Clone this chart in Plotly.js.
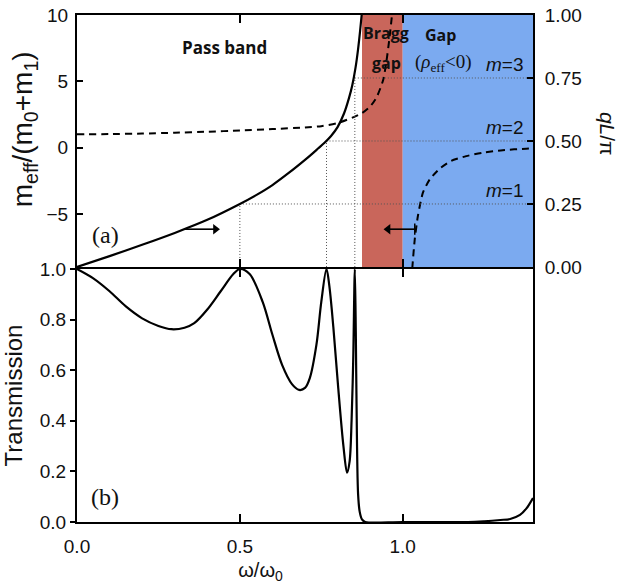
<!DOCTYPE html>
<html><head><meta charset="utf-8">
<script src="https://cdn.plot.ly/plotly-3.0.1.min.js"></script>
<style>html,body{margin:0;padding:0;background:#fff}#chart{width:621px;height:584px}</style>
</head><body><div id="chart"></div>
<script>
// ---- data ----
// (a) wavenumber qL/pi (right axis), solid curve
const qOmega = [0, 0.1, 0.2, 0.3, 0.4, 0.5, 0.55, 0.6, 0.65, 0.7, 0.72, 0.74, 0.76, 0.78, 0.8, 0.82, 0.835, 0.845, 0.855, 0.863, 0.869, 0.874];
const qValues = [0, 0.043, 0.088, 0.135, 0.187, 0.25, 0.285, 0.325, 0.373, 0.425, 0.447, 0.47, 0.493, 0.52, 0.555, 0.61, 0.67, 0.72, 0.79, 0.865, 0.935, 1.0];
// (a) effective mass m_eff/(m0+m1) (left axis), dashed curve, pass band branch
const mOmegaLow = [0, 0.1, 0.2, 0.3, 0.4, 0.5, 0.6, 0.7, 0.75, 0.8, 0.85, 0.875, 0.9, 0.92, 0.94, 0.95, 0.96, 0.968, 0.972];
const mValuesLow = [1.0, 1.02, 1.06, 1.12, 1.2, 1.29, 1.4, 1.52, 1.62, 1.85, 2.3, 2.6, 3.1, 3.8, 5.1, 6.5, 8.4, 10.2, 11.0];
// dashed curve, gap branch
const mOmegaHigh = [1.027, 1.03, 1.037, 1.047, 1.062, 1.083, 1.113, 1.149, 1.195, 1.246, 1.307, 1.379, 1.4];
const mValuesHigh = [-10, -8.9, -6.9, -5.1, -3.4, -2.4, -1.6, -1.0, -0.64, -0.38, -0.19, -0.08, -0.05];
// (b) transmission
const tOmega = [0, 0.05, 0.1, 0.15, 0.2, 0.25, 0.29, 0.33, 0.36, 0.4, 0.44, 0.48, 0.5, 0.53, 0.57, 0.6, 0.63, 0.66, 0.682, 0.7, 0.715, 0.735, 0.75, 0.766, 0.775, 0.787, 0.802, 0.818, 0.829, 0.837, 0.843, 0.848, 0.853, 0.856, 0.858, 0.863, 0.868, 0.875, 0.885, 1.0, 1.2, 1.25, 1.3, 1.33, 1.36, 1.38, 1.4];
const tValues = [1.0, 0.963, 0.912, 0.852, 0.805, 0.775, 0.762, 0.768, 0.786, 0.84, 0.91, 0.98, 1.0, 0.98, 0.87, 0.74, 0.62, 0.545, 0.522, 0.53, 0.57, 0.7, 0.87, 1.0, 0.93, 0.77, 0.53, 0.3, 0.195, 0.24, 0.4, 0.64, 1.0, 0.75, 0.5, 0.11, 0.04, 0.01, 0.0, 0.0, 0.0, 0.003, 0.008, 0.012, 0.028, 0.054, 0.095];
// resonances (T = 1) and the corresponding qL/pi levels (m = 1, 2, 3)
const resOmega = [0.5, 0.766, 0.853];
const resQ = [0.25, 0.5, 0.75];
const modeLabels = ['<i>m</i>=1', '<i>m</i>=2', '<i>m</i>=3'];
// shaded regions
const braggGap = [0.875, 1.0];
const negGap = [1.0, 1.4];
// axis ticks
const xTicks = [0, 0.5, 1.0];
const xTickText = ['0.0', '0.5', '1.0'];
const mTicks = [-5, 0, 5, 10];
const qTicks = [0, 0.25, 0.5, 0.75, 1.0];
const tTicks = [0, 0.2, 0.4, 0.6, 0.8, 1.0];

// ---- build guide lines from resonances ----
const guideX = [], guideY = [];
resOmega.forEach((w, i) => {
  guideX.push(w, w, null, w, 1.4, null);
  guideY.push(0, resQ[i], null, resQ[i], resQ[i], null);
});

const F = 'Liberation Sans, Arial, sans-serif';
const tickFont = {family: F, size: 19, color: '#111'};

const traces = [
  {x: guideX, y: guideY, xaxis: 'x2', yaxis: 'y3', mode: 'lines', hoverinfo: 'skip',
   line: {color: '#555', width: 1, dash: '1px,2px'}, showlegend: false},
  {x: qOmega, y: qValues, xaxis: 'x2', yaxis: 'y3', mode: 'lines',
   line: {color: '#000', width: 2.2, shape: 'spline', smoothing: 0.8}, showlegend: false},
  {x: mOmegaLow, y: mValuesLow, xaxis: 'x2', yaxis: 'y2', mode: 'lines',
   line: {color: '#000', width: 2, dash: '7px,5px', shape: 'spline', smoothing: 0.6}, showlegend: false},
  {x: mOmegaHigh, y: mValuesHigh, xaxis: 'x2', yaxis: 'y2', mode: 'lines',
   line: {color: '#000', width: 2, dash: '7px,5px', shape: 'spline', smoothing: 0.6}, showlegend: false},
  // arrow pointing to the right axis (solid curve)
  {x: [0.331, 0.425], y: [0.15, 0.15], xaxis: 'x2', yaxis: 'y3', mode: 'lines', hoverinfo: 'skip',
   line: {color: '#000', width: 1.6}, showlegend: false},
  {x: [0.425], y: [0.15], xaxis: 'x2', yaxis: 'y3', mode: 'markers', hoverinfo: 'skip',
   marker: {symbol: 'triangle-right', size: 9, color: '#000'}, showlegend: false},
  // arrow pointing to the left axis (dashed curve)
  {x: [1.037, 0.955], y: [0.15, 0.15], xaxis: 'x2', yaxis: 'y3', mode: 'lines', hoverinfo: 'skip',
   line: {color: '#000', width: 1.6}, showlegend: false},
  {x: [0.955], y: [0.15], xaxis: 'x2', yaxis: 'y3', mode: 'markers', hoverinfo: 'skip',
   marker: {symbol: 'triangle-left', size: 9, color: '#000'}, showlegend: false},
  {x: [1.037], y: [0.15], xaxis: 'x2', yaxis: 'y3', mode: 'markers', hoverinfo: 'skip',
   marker: {symbol: 'line-ns', size: 8, line: {width: 1.5, color: '#000'}}, showlegend: false},
  {x: tOmega, y: tValues, xaxis: 'x', yaxis: 'y', mode: 'lines',
   line: {color: '#000', width: 2.2, shape: 'spline', smoothing: 0.9}, showlegend: false}
];

const ann = [];
const txt = (x, y, text, font, extra) => Object.assign({xref: 'x2', yref: 'y3', x, y, text, showarrow: false, font}, extra || {});
const bold = {family: 'Open Sans, sans-serif', size: 16, color: '#111', weight: 'bold'};
ann.push(txt(0.454, 0.87, '<b>Pass band</b>', Object.assign({}, bold, {size: 17})));
ann.push(txt(0.95, 0.929, '<b>Bragg</b>', bold));
ann.push(txt(0.95, 0.81, '<b>gap</b>', bold));
ann.push(txt(1.117, 0.921, '<b>Gap</b>', bold));
ann.push(txt(1.126, 0.81, '(<i>ρ</i><sub>eff</sub>&lt;0)', {family: 'Liberation Serif, serif', size: 19, color: '#111'}));
modeLabels.forEach((t, i) => ann.push(txt(1.378, resQ[i] + 0.055, t, {family: F, size: 19, color: '#111'}, {xanchor: 'right'})));
ann.push(txt(0.086, 0.125, '(a)', {family: 'Liberation Serif, serif', size: 24, color: '#111'}));
ann.push({xref: 'x', yref: 'y', x: 0.086, y: 0.1, text: '(b)', showarrow: false, font: {family: 'Liberation Serif, serif', size: 24, color: '#111'}});
// right axis title (reads top to bottom)
ann.push({xref: 'paper', yref: 'paper', x: 1.165, y: 0.765, xanchor: 'center', yanchor: 'middle', text: '<i>qL</i>/π', textangle: 90, showarrow: false, font: {family: F, size: 21, color: '#111'}});

const axisLine = {showline: true, linecolor: '#000', linewidth: 2, showgrid: false, zeroline: false};

const layout = {
  width: 621, height: 584,
  margin: {l: 77, r: 88, t: 15, b: 62},
  paper_bgcolor: '#fff', plot_bgcolor: 'rgba(0,0,0,0)',
  showlegend: false,
  xaxis: Object.assign({}, axisLine, {anchor: 'y', domain: [0, 1], range: [0, 1.4], tickvals: xTicks, ticktext: xTickText,
    ticks: 'inside', ticklen: 8, tickwidth: 2, tickcolor: '#000', mirror: 'ticks', tickfont: tickFont, ticklabelstandoff: 6,
    title: {text: 'ω/ω<sub>0</sub>&nbsp;&nbsp;&nbsp;&nbsp;&nbsp;&nbsp;&nbsp;&nbsp;&nbsp;&nbsp;&nbsp;&nbsp;&nbsp;&nbsp;&nbsp;&nbsp;', font: {family: F, size: 20, color: '#111'}, standoff: 8}}),
  xaxis2: Object.assign({}, axisLine, {anchor: 'y2', matches: 'x', range: [0, 1.4], tickvals: xTicks, showticklabels: false,
    ticks: 'inside', ticklen: 8, tickwidth: 2, tickcolor: '#000', mirror: 'ticks'}),
  yaxis: Object.assign({}, axisLine, {anchor: 'x', domain: [0, 0.499], range: [0, 1], tickvals: tTicks, tickformat: '.1f',
    ticks: 'outside', ticklen: 5, tickwidth: 2, tickcolor: '#000', mirror: true, tickfont: tickFont,
    title: {text: 'Transmission', font: {family: F, size: 24, color: '#111'}, standoff: 10}}),
  yaxis2: Object.assign({}, axisLine, {anchor: 'x2', domain: [0.503, 1], range: [-9, 10], tickvals: mTicks,
    ticks: 'inside', ticklen: 6, tickwidth: 2, tickcolor: '#000', tickfont: tickFont, ticklabelstandoff: 3,
    title: {text: '&nbsp;&nbsp;&nbsp;m<sub>eff</sub>/(m<sub>0</sub>+m<sub>1</sub>)', font: {family: F, size: 28, color: '#111'}, standoff: 6}}),
  yaxis3: Object.assign({}, axisLine, {overlaying: 'y2', anchor: 'x2', side: 'right', range: [0, 1], tickvals: qTicks, tickformat: '.2f',
    ticks: 'inside', ticklen: 6, tickwidth: 2, tickcolor: '#000', tickfont: tickFont, ticklabelstandoff: 6}),
  shapes: [
    {type: 'rect', xref: 'x2', yref: 'y3', x0: braggGap[0], x1: braggGap[1], y0: 0, y1: 1, fillcolor: '#c9665b', line: {width: 0}, layer: 'below'},
    {type: 'rect', xref: 'x2', yref: 'y3', x0: negGap[0], x1: negGap[1], y0: 0, y1: 1, fillcolor: '#7baaf0', line: {width: 0}, layer: 'below'}
  ],
  annotations: ann
};

Plotly.newPlot('chart', traces, layout, {staticPlot: true, displayModeBar: false});
</script></body></html>
